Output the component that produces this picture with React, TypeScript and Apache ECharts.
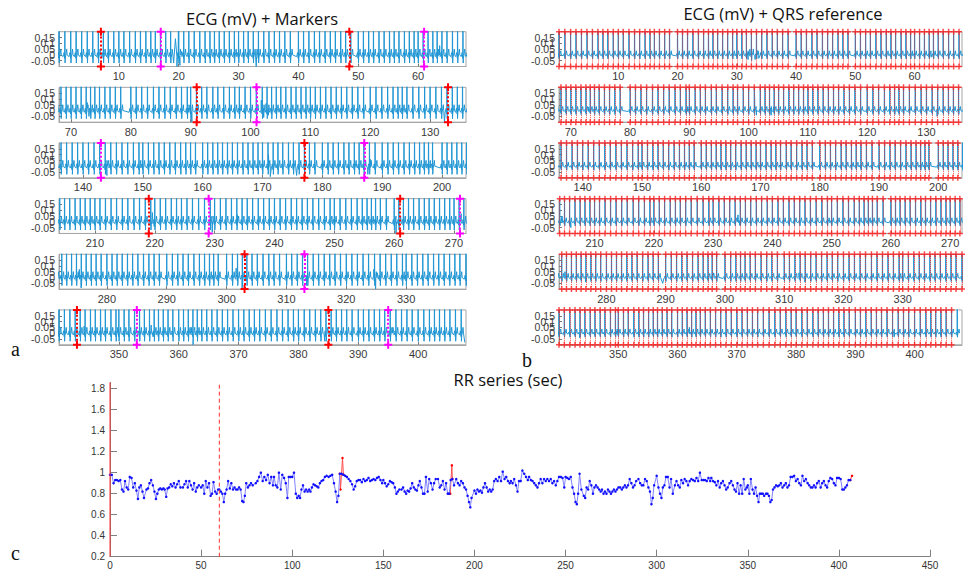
import React, { useEffect, useRef } from 'react';
import * as echarts from 'echarts';

// ---------------- DATA ----------------
// RR intervals (sec), grouped in 10-second windows (window k starts at 10*k s)
const rrChunks: number[][] = [
  [0.98, 0.98, 0.90, 0.93, 0.93, 0.92, 0.93, 0.84, 0.82, 0.92, 0.86],
  [0.84, 0.96, 0.95, 0.86, 0.90, 0.83, 0.75, 0.86, 0.88, 0.82, 0.76],
  [0.84, 0.85, 0.90, 0.93, 0.88, 0.82, 0.75, 0.80, 0.84, 0.85, 0.84, 0.85],
  [0.84, 0.77, 0.85, 0.86, 0.89, 0.87, 0.90, 0.86, 0.89, 0.92, 0.86],
  [0.86, 0.89, 0.92, 0.86, 0.92, 0.88, 0.84, 0.90, 0.82, 0.86, 0.88],
  [0.86, 0.88, 0.80, 0.92, 0.86, 0.90, 0.78, 0.80, 0.91, 0.82, 0.80, 0.84],
  [0.84, 0.82, 0.80, 0.72, 0.80, 0.84, 0.92, 0.85, 0.90, 0.84, 0.86, 0.84],
  [0.84, 0.86, 0.84, 0.73, 0.72, 0.78, 0.90, 0.86, 0.88, 0.90, 0.88],
  [0.90, 0.92, 0.96, 1.00, 0.92, 0.96, 0.93, 0.98, 0.90, 0.96, 0.88],
  [0.96, 0.88, 0.86, 1.00, 0.84, 0.98, 0.95, 0.90, 0.76, 0.96, 0.96],
  [0.96, 1.00, 0.80, 0.76, 0.78, 0.76, 0.84, 0.88, 0.82, 0.84, 0.82, 0.84],
  [0.82, 0.86, 0.89, 0.88, 0.87, 0.86, 0.90, 0.92, 0.93, 0.96, 0.97],
  [0.96, 0.97, 0.98, 0.90, 0.82, 0.72, 0.78, 0.99, 0.99, 0.98, 0.97],
  [0.96, 0.94, 0.92, 0.89, 0.84, 0.87, 0.92, 0.93, 0.93, 0.91, 0.94],
  [0.92, 0.93, 0.95, 0.92, 0.93, 0.94, 0.93, 0.95, 0.96, 0.93, 0.90],
  [0.93, 0.90, 0.87, 0.89, 0.92, 0.91, 0.90, 0.86, 0.80, 0.82, 0.84],
  [0.84, 0.86, 0.82, 0.80, 0.83, 0.82, 0.85, 0.90, 0.86, 0.84, 0.83, 0.88],
  [0.92, 0.86, 0.80, 0.80, 0.96, 0.82, 0.94, 0.90, 0.84, 0.90, 0.94],
  [0.94, 0.86, 0.88, 0.92, 0.84, 0.90, 0.80, 0.80, 0.93, 0.94, 0.88],
  [0.94, 0.90, 0.88, 0.92, 0.90, 0.86, 0.84, 0.78, 0.72, 0.67, 0.76],
  [0.83, 0.80, 0.84, 0.82, 0.83, 0.81, 0.86, 0.90, 0.86, 0.82, 0.84, 0.82],
  [0.84, 0.92, 0.94, 0.92, 0.96, 0.92, 1.01, 0.94, 0.96, 0.92, 0.90],
  [0.92, 0.90, 0.94, 0.88, 0.82, 0.92, 0.92, 1.02, 0.99, 0.96, 0.93],
  [0.96, 0.93, 0.92, 0.90, 0.88, 0.86, 0.90, 0.94, 0.90, 0.94, 0.92],
  [0.94, 0.92, 0.94, 0.90, 0.92, 0.88, 0.92, 0.96, 0.96, 0.95, 0.86],
  [0.96, 0.95, 0.94, 0.96, 0.86, 0.80, 0.72, 0.70, 0.80, 0.99, 0.84],
  [0.78, 0.76, 0.86, 0.84, 0.92, 0.88, 0.80, 0.86, 0.88, 0.86, 0.84, 0.82],
  [0.84, 0.80, 0.82, 0.80, 0.84, 0.82, 0.80, 0.82, 0.84, 0.82, 0.84, 0.86],
  [0.86, 0.84, 0.86, 0.88, 0.86, 0.88, 0.94, 0.90, 0.86, 0.88, 0.92],
  [0.94, 0.90, 0.88, 0.88, 0.94, 0.92, 0.86, 0.82, 0.70, 0.76, 0.88],
  [0.97, 0.86, 0.80, 0.76, 0.86, 0.88, 0.96, 0.96, 0.86, 0.94, 0.80],
  [0.88, 0.92, 0.88, 0.86, 0.93, 0.90, 0.94, 0.92, 0.88, 0.92, 0.94],
  [0.93, 0.92, 0.95, 0.92, 1.00, 0.93, 0.93, 0.93, 0.92, 0.95, 0.92],
  [0.95, 0.92, 0.91, 0.88, 0.92, 0.86, 0.90, 0.92, 0.88, 0.84, 0.86],
  [0.90, 0.92, 0.88, 0.84, 0.82, 0.90, 0.80, 0.88, 0.80, 0.94, 0.84, 0.86],
  [0.88, 0.80, 0.94, 0.84, 0.80, 0.86, 0.78, 0.72, 0.80, 0.80, 0.80, 0.78],
  [0.80, 0.80, 0.78, 0.72, 0.74, 0.84, 0.86, 0.88, 0.87, 0.88, 0.90, 0.86],
  [0.88, 0.90, 0.86, 0.88, 0.96, 0.96, 0.97, 0.92, 0.94, 0.90, 0.88],
  [0.97, 0.92, 0.94, 0.90, 0.88, 0.86, 0.86, 0.88, 0.86, 0.90, 0.92],
  [0.86, 0.90, 0.92, 0.88, 0.86, 0.92, 0.95, 0.94, 0.90, 0.88, 0.95],
  [0.95, 0.94, 0.84, 0.84, 0.86, 0.88, 0.93, 0.93],
];
const rrWindow = 10;
// original (uncorrected) RR values shown in red: [time, rr]
const rrRedSegments: [number, number][][] = [
  [[126.5, 0.84], [127.6, 1.14]],
  [[186.7, 0.80], [187.6, 1.07]],
];
const rrLastRed: [number, number] = [407.2, 0.97];
const rrSolidLine = 0;
const rrDashedLine = 60;
const rrXTicks = [0, 50, 100, 150, 200, 250, 300, 350, 400, 450];
const rrYTicks = [0.2, 0.4, 0.6, 0.8, 1, 1.2, 1.4, 1.6, 1.8];
const rrYRange = [0.2, 1.86];

// ECG rows
const ecgRowSpan = 68;
const ecgRowTicks: number[][] = [
  [10, 20, 30, 40, 50, 60],
  [70, 80, 90, 100, 110, 120, 130],
  [140, 150, 160, 170, 180, 190, 200],
  [210, 220, 230, 240, 250, 260, 270],
  [280, 290, 300, 310, 320, 330],
  [350, 360, 370, 380, 390, 400],
];
const ecgYTicks = [-0.05, 0, 0.05, 0.1, 0.15];
const ecgYRange = [-0.1, 0.2];
const markersRed = [7, 48.5, 91, 133, 177, 219, 261, 303, 343, 385];
const markersMagenta = [17, 61, 101, 143, 187, 229, 271, 313, 353, 395];

// one heartbeat, time offset from the R peak (s) and amplitude (mV)
const beatOffsets = [-0.3, -0.2, -0.14, -0.08, -0.03, 0, 0.035, 0.08, 0.14, 0.22, 0.3, 0.38];
const beatLeft = [-0.015, 0.005, 0.02, -0.005, -0.03, 0.45, -0.07, -0.02, -0.01, 0.02, 0.05, 0.0];
const beatRight = [-0.008, 0.0, 0.01, -0.003, -0.02, 0.45, -0.035, -0.01, 0.0, 0.02, 0.035, 0.0];

// noise / ectopic deflections [time, mV]
const ecgArtifactsLeft: [number, number][] = [
  [18.9, 0.05], [19.15, -0.07], [19.45, 0.14], [19.7, -0.1], [19.95, 0.25], [20.2, -0.09], [20.5, 0.03],
  [32.95, -0.1], [33.1, 0.05], [63.3, 0.05], [63.6, 0.08], [63.9, 0.03],
  [72.7, 0.07], [73.0, -0.05], [90.2, -0.1], [90.35, 0.02],
  [101.8, 0.09], [102.2, -0.06], [102.6, 0.06], [103.0, -0.04], [132.4, -0.1],
  [144.0, -0.08], [144.3, 0.05], [171.0, 0.1], [171.3, -0.09], [175.7, -0.08], [187.6, -0.07], [188.0, 0.06],
  [219.6, 0.08], [219.9, -0.04], [229.6, -0.09], [229.9, 0.05], [233.8, 0.06], [260.3, -0.1], [271.2, 0.07],
  [275.4, 0.07], [275.7, -0.09], [301.6, 0.08], [301.9, -0.04], [302.6, -0.09], [313.4, -0.07],
  [324.6, 0.07], [324.9, -0.1], [325.2, 0.04],
  [344.2, 0.06], [355.4, 0.07], [355.7, -0.03], [362.1, 0.05], [362.4, -0.1], [362.7, 0.02],
  [384.4, -0.07], [395.8, 0.05], [407.8, -0.08],
];
const ecgArtifactsRight: [number, number][] = [
  [31.6, 0.03], [31.9, -0.04], [32.2, 0.05], [32.5, -0.05], [32.8, 0.05], [33.1, -0.04], [33.4, 0.04],
  [33.7, -0.03], [34.0, 0.02], [62.5, 0.03], [62.8, -0.02],
  [73.0, 0.03], [73.3, -0.03], [101.0, 0.12], [101.3, -0.04], [103.5, 0.03], [103.8, -0.04], [104.2, 0.03],
  [131.8, -0.05], [204.5, 0.05], [206.0, -0.05], [234.2, 0.06], [234.5, -0.03],
  [273.0, 0.05], [276.5, -0.04], [289.5, -0.05], [298.0, 0.04], [312.5, 0.04], [313.5, -0.04],
  [343.5, -0.04], [362.0, 0.05], [396.3, 0.06], [396.6, -0.03],
];

// ---------------- STYLE ----------------
const TICK_FONT = '"Liberation Sans", Arial, sans-serif';
const TITLE_FONT = '"Open Sans", sans-serif';
const LETTER_FONT = '"Liberation Serif", "DejaVu Serif", serif';
const PLUS = 'path://M3,0H5V3H8V5H5V8H3V5H0V3H3Z';
const BOX = '#a6a6a6';

function buildOption() {
  const beats: [number, number][] = [];
  rrChunks.forEach((chunk, k) => {
    let t = k * rrWindow;
    chunk.forEach((v) => {
      beats.push([+t.toFixed(3), v]);
      t += v;
    });
  });
  const ecgBeats = beats.map((b) => b[0]).concat([rrLastRed[0]]);

  const ecgData = (tpl: number[], art: [number, number][], a: number, b: number) => {
    const pts: [number, number][] = [];
    ecgBeats.forEach((t) => {
      if (t < a - 1 || t > b + 1) return;
      beatOffsets.forEach((o, j) => pts.push([t + o, tpl[j]]));
    });
    art.forEach((p) => { if (p[0] >= a - 1 && p[0] <= b + 1) pts.push(p); });
    pts.sort((p, q) => p[0] - q[0]);
    return pts;
  };

  const grid: any[] = [];
  const xAxis: any[] = [];
  const yAxis: any[] = [];
  const series: any[] = [];
  // labels split over two axes so the crowded labels are all drawn
  const yLabelsA = ecgYTicks.filter((_, i) => i % 2 === 0);
  const yLabelsB = ecgYTicks.filter((_, i) => i % 2 === 1);
  const yLabelStyle = { hideOverlap: false, showMinLabel: true, showMaxLabel: true, fontSize: 10.5, color: '#3a3a3a', margin: 4, fontFamily: TICK_FONT };

  for (let p = 0; p < 2; p++) {
    for (let r = 0; r < 6; r++) {
      const gi = p * 6 + r;
      const a = r * ecgRowSpan;
      const b = (r + 1) * ecgRowSpan;
      grid.push({
        left: p ? 559 : 59,
        top: 31.7 + 55.65 * r,
        width: p ? 403 : 407,
        height: 34.8,
        show: true,
        borderColor: BOX,
        borderWidth: 1,
      });
      xAxis.push({
        gridIndex: gi, type: 'value', min: a, max: b,
        axisLine: { show: true, onZero: false, lineStyle: { color: BOX, width: 1 } },
        axisTick: { show: true, inside: true, length: 3, customValues: ecgRowTicks[r], lineStyle: { color: '#777' } },
        axisLabel: { customValues: ecgRowTicks[r], hideOverlap: false, showMinLabel: true, showMaxLabel: true, fontSize: 11, color: '#3a3a3a', margin: 4, fontFamily: TICK_FONT },
        splitLine: { show: false },
      });
      yAxis.push({
        gridIndex: gi, type: 'value', min: ecgYRange[0], max: ecgYRange[1],
        axisLine: { show: true, onZero: false, lineStyle: { color: BOX, width: 1 } },
        axisTick: { show: true, inside: true, length: 3, customValues: ecgYTicks, lineStyle: { color: '#777' } },
        axisLabel: { ...yLabelStyle, customValues: yLabelsA },
        splitLine: { show: false },
      });
      yAxis.push({
        gridIndex: gi, type: 'value', min: ecgYRange[0], max: ecgYRange[1], position: 'left', offset: 0,
        axisLine: { show: false }, axisTick: { show: false },
        axisLabel: { ...yLabelStyle, customValues: yLabelsB },
        splitLine: { show: false },
      });
      const yi = gi * 2;
      series.push({
        type: 'line', xAxisIndex: gi, yAxisIndex: yi,
        data: ecgData(p ? beatRight : beatLeft, p ? ecgArtifactsRight : ecgArtifactsLeft, a, b),
        showSymbol: false, symbol: 'none', clip: true, silent: true,
        lineStyle: { color: '#2096d4', width: 1 },
        z: 2,
      });
      let mlData: any[];
      if (p === 0) {
        mlData = markersRed.filter((t) => t >= a && t <= b).map((t) => ({ xAxis: t, lineStyle: { color: '#ff0000' } }))
          .concat(markersMagenta.filter((t) => t >= a && t <= b).map((t) => ({ xAxis: t, lineStyle: { color: '#ff00ff' } })));
      } else {
        mlData = beats.filter((bt) => bt[0] >= a && bt[0] <= b).map((bt) => ({ xAxis: bt[0] }));
      }
      series.push({
        type: 'line', xAxisIndex: gi, yAxisIndex: yi, data: [], clip: false, silent: true,
        markLine: {
          silent: true, animation: false,
          symbol: [PLUS, PLUS],
          symbolSize: p ? 6 : 8,
          label: { show: false },
          lineStyle: p ? { color: '#ff2020', type: 'dotted', width: 1, opacity: 0.8 } : { type: 'dotted', width: 2 },
          emphasis: { disabled: true },
          data: mlData,
        },
        z: 3,
      });
    }
  }

  // RR plot
  const gi = 12;
  const yi = 24;
  grid.push({ left: 110, top: 382.4, width: 820, height: 174.3, show: false });
  xAxis.push({
    gridIndex: gi, type: 'value', min: 0, max: 450,
    axisLine: { show: true, onZero: false, lineStyle: { color: '#808080' } },
    axisTick: { show: true, inside: true, length: 7, customValues: rrXTicks, lineStyle: { color: '#808080' } },
    axisLabel: { customValues: rrXTicks, hideOverlap: false, showMinLabel: true, showMaxLabel: true, fontSize: 10, color: '#333', margin: 4, fontFamily: TICK_FONT },
    splitLine: { show: false },
  });
  yAxis.push({
    gridIndex: gi, type: 'value', min: rrYRange[0], max: rrYRange[1],
    axisLine: { show: true, onZero: false, lineStyle: { color: '#808080' } },
    axisTick: { show: true, inside: true, length: 7, customValues: rrYTicks, lineStyle: { color: '#808080' } },
    axisLabel: { customValues: rrYTicks, hideOverlap: false, showMinLabel: true, showMaxLabel: true, fontSize: 10, color: '#333', margin: 5, fontFamily: TICK_FONT },
    splitLine: { show: false },
  });

  // vertical reference lines
  series.push({
    type: 'line', xAxisIndex: gi, yAxisIndex: yi, silent: true, symbol: 'none', showSymbol: false,
    data: [[rrSolidLine, rrYRange[0]], [rrSolidLine, rrYRange[1]]],
    lineStyle: { color: '#ff3030', width: 1, type: 'solid' }, z: 5,
  });
  series.push({
    type: 'line', xAxisIndex: gi, yAxisIndex: yi, silent: true, symbol: 'none', showSymbol: false,
    data: [[rrDashedLine, rrYRange[0]], [rrDashedLine, rrYRange[1]]],
    lineStyle: { color: '#ff3030', width: 1, type: [4, 3] }, z: 5,
  });

  const findBefore = (t: number) => {
    let i = 0;
    while (i + 1 < beats.length && beats[i + 1][0] < t) i++;
    return i;
  };
  const redStyle = {
    type: 'line', xAxisIndex: gi, yAxisIndex: yi, silent: true,
    symbol: 'circle', symbolSize: 2.5, showSymbol: true,
    lineStyle: { color: '#ff5050', width: 1 },
    itemStyle: { color: '#ff0000' },
  };
  rrRedSegments.forEach((seg) => {
    const i0 = findBefore(seg[0][0]);
    let i1 = i0 + 1;
    while (i1 < beats.length - 1 && beats[i1][0] <= seg[seg.length - 1][0]) i1++;
    series.push({ ...redStyle, data: [beats[i0], ...seg, beats[i1]] });
  });
  series.push({ ...redStyle, data: [beats[beats.length - 1], rrLastRed] });
  series.push({
    type: 'line', xAxisIndex: gi, yAxisIndex: yi, silent: true,
    data: beats, symbol: 'circle', symbolSize: 2.5, showSymbol: true,
    lineStyle: { color: '#8080ff', width: 1 },
    itemStyle: { color: '#1010ff' },
    z: 4,
  });

  const T = { fontFamily: TITLE_FONT, fontSize: 16.5, fontWeight: 'normal', color: '#111' };
  const L = { fontFamily: LETTER_FONT, fontSize: 20, fontWeight: 'normal', color: '#111' };
  const title = [
    { text: 'ECG (mV) + Markers', left: 262, top: 10, padding: 0, textAlign: 'center', textStyle: T },
    { text: 'ECG (mV) + QRS reference', left: 783, top: 5, padding: 0, textAlign: 'center', textStyle: T },
    { text: 'RR series (sec)', left: 508, top: 371, padding: 0, textAlign: 'center', textStyle: T },
    { text: 'a', left: 11, top: 339, padding: 0, textStyle: L },
    { text: 'b', left: 522, top: 350, padding: 0, textStyle: L },
    { text: 'c', left: 11, top: 543, padding: 0, textStyle: L },
  ];

  return { animation: false, backgroundColor: '#fff', title, grid, xAxis, yAxis, series };
}

export default function App() {
  const ref = useRef<HTMLDivElement>(null);
  useEffect(() => {
    const chart = echarts.init(ref.current as HTMLDivElement, null, { renderer: 'svg' });
    chart.setOption(buildOption() as any);
    return () => chart.dispose();
  }, []);
  return <div ref={ref} style={{ position: 'absolute', left: 0, top: 0, width: 965, height: 571 }} />;
}
